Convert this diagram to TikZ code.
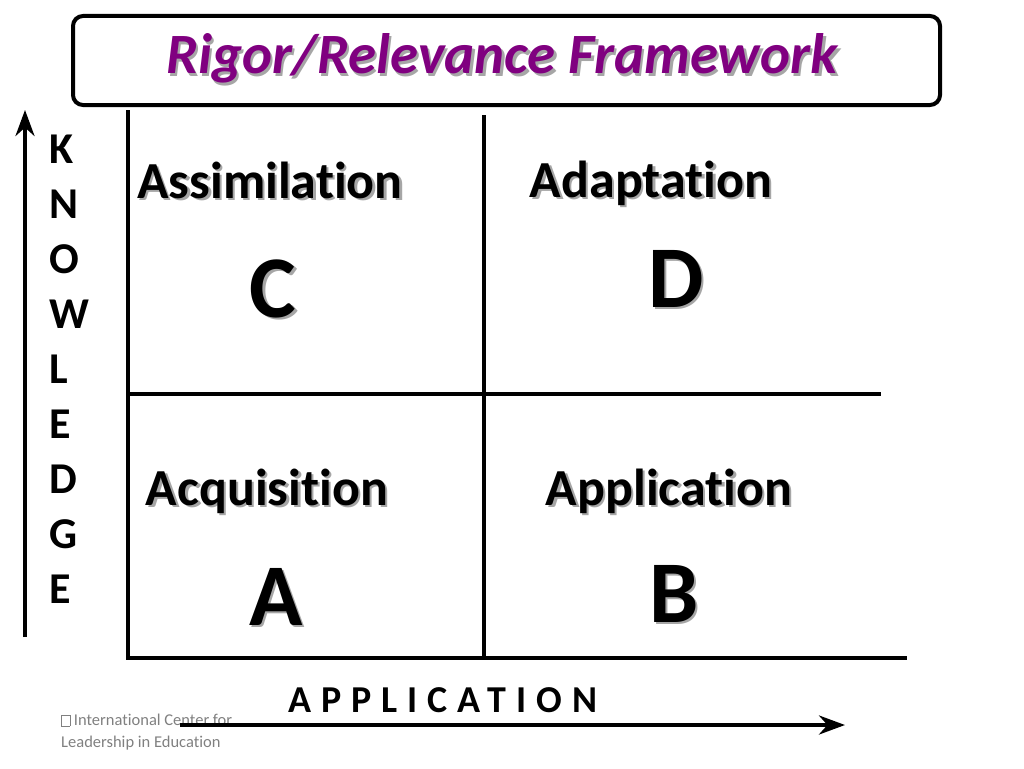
\documentclass[tikz,border=0pt]{standalone}
\usepackage{fontspec}
\setmainfont[Ligatures=CommonOff]{Carlito}
\usetikzlibrary{arrows.meta}
\definecolor{titlepurple}{HTML}{800080}
\newcommand{\shtext}[1]{\makebox[0pt][l]{\hspace{2.5pt}\raisebox{-2.5pt}{\textcolor{black!35}{#1}}}#1}
\tikzstyle{quad} = [font=\fontsize{52}{62}\selectfont\bfseries, anchor=base, inner sep=0pt]
\tikzstyle{letter} = [font=\fontsize{88}{100}\selectfont\bfseries, anchor=base, inner sep=0pt]
\tikzstyle{axis} = [line width=4pt, -{Stealth[length=26pt,width=19pt]}]
\tikzstyle{gridline} = [line width=4pt]
\begin{document}
\begin{tikzpicture}[x=1pt,y=-1pt]
\useasboundingbox (0,0) rectangle (1024,768);
% title
\node (titlebox) [draw, line width=4pt, rounded corners=10pt, minimum width=867pt, minimum height=89pt, inner sep=0pt] at (506.5,60.5) {};
\node (title) [anchor=base, inner sep=0pt, text=titlepurple, font=\fontsize{57}{66}\selectfont\bfseries\itshape] at (502,74) {\shtext{Rigor/Relevance Framework}};
% grid
\coordinate (lt) at (128,110);
\coordinate (lb) at (128,660);
\coordinate (bl) at (126,658);
\coordinate (br) at (907,658);
\coordinate (mt) at (484,115);
\coordinate (mb) at (484,658);
\coordinate (hl) at (128,394);
\coordinate (hr) at (881,394);
\draw [gridline] (lt) -- (lb);
\draw [gridline] (bl) -- (br);
\draw [gridline] (mt) -- (mb);
\draw [gridline] (hl) -- (hr);
% quadrants
\node (assim) [quad] at (270,198) {\shtext{Assimilation}};
\node (adapt) [quad] at (651,197) {\shtext{Adaptation}};
\node (acqui) [quad] at (267,505) {\shtext{Acquisition}};
\node (appli) [quad] at (669,505) {\shtext{Application}};
\node (qc) [letter] at (273,317) {\shtext{C}};
\node (qd) [letter] at (676,307) {\shtext{D}};
\node (qa) [letter] at (276,625) {\shtext{A}};
\node (qb) [letter] at (674,622) {\shtext{B}};
% knowledge axis
\foreach \ch [count=\i from 0] in {K,N,O,W,L,E,D,G,E}
  \node (k\i) [anchor=base west, inner sep=0pt, font=\fontsize{44}{55}\selectfont\bfseries] at (49,163+55*\i) {\ch};
\coordinate (kbot) at (25,637);
\coordinate (ktop) at (25,110);
\draw [axis] (kbot) -- (ktop);
% application axis
\node (footer) [anchor=north west, align=left, inner sep=0pt, text=black!50, font=\fontsize{16.5}{22}\selectfont] at (61,714) {{\setlength{\fboxsep}{0pt}\setlength{\fboxrule}{0.5pt}\fbox{\rule{0pt}{10pt}\hspace{8pt}}} International Center for\\Leadership in Education};
\node (appaxis) [anchor=base, inner sep=0pt, font=\fontsize{38}{46}\selectfont\bfseries\addfontfeature{LetterSpace=26}] at (443,712) {APPLICATION};
\coordinate (aleft) at (180,725);
\coordinate (aright) at (845,725);
\draw [axis] (aleft) -- (aright);
\end{tikzpicture}
\end{document}
